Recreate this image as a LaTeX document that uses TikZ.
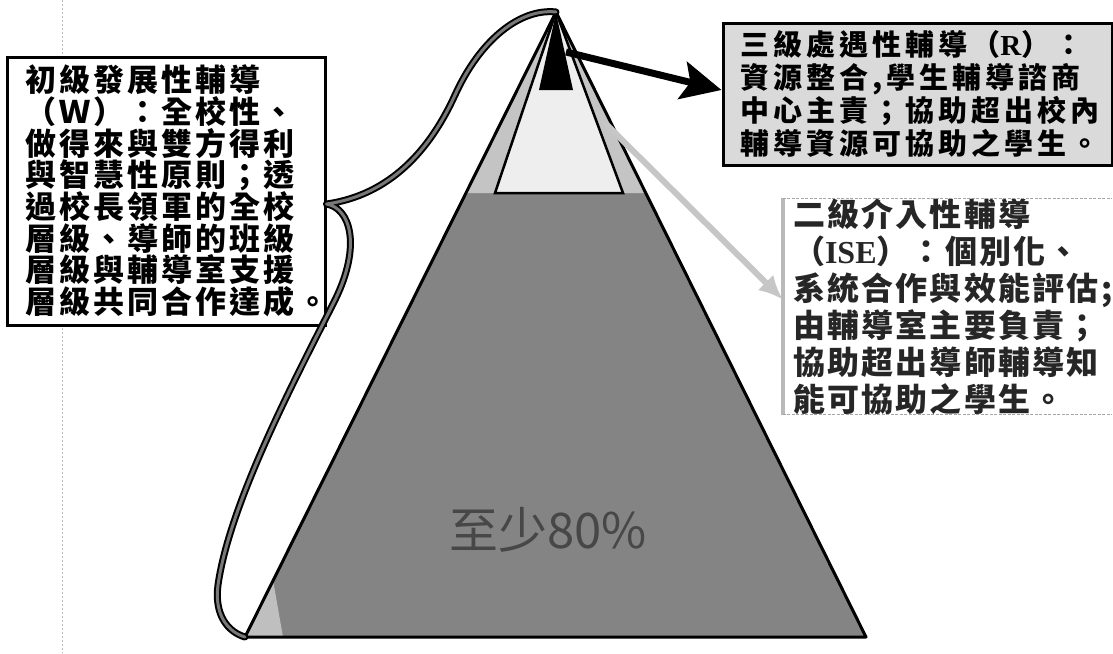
\documentclass[tikz,border=0pt]{standalone}
\usepackage{fontspec}
\usetikzlibrary{arrows.meta}
\newfontfamily\cjkW{Noto Sans CJK TC}[LetterSpace=10]
\newfontfamily\cjkR{Noto Sans CJK TC}[LetterSpace=14]
\newfontfamily\cjkI{Noto Sans CJK TC}[LetterSpace=7]
\newfontfamily\cjkBig{Noto Sans CJK TC}
\newfontfamily\latser{Liberation Serif}
\definecolor{pyrgray}{RGB}{132,132,132}
\definecolor{bandgray}{RGB}{196,196,196}
\definecolor{innergray}{RGB}{238,238,238}
\definecolor{rboxgray}{RGB}{218,218,218}
\definecolor{bracegray}{RGB}{120,120,120}
\tikzset{
  boxW/.style={draw=black, line width=3pt, fill=white, minimum width=318pt, minimum height=268pt,
    inner xsep=18pt, inner ysep=0pt, text width=282pt, align=left,
    font=\cjkW\bfseries\fontsize{31}{31.7}\selectfont},
  boxR/.style={draw=black, line width=3pt, fill=rboxgray, minimum width=389pt, minimum height=142pt,
    inner xsep=17pt, inner ysep=0pt, text width=355pt, align=left,
    font=\cjkR\bfseries\fontsize{29}{33}\selectfont},
  boxI/.style={fill=white, minimum width=329pt, minimum height=207pt,
    inner xsep=10pt, inner ysep=0pt, text width=309pt, align=left,
    font=\cjkI\bfseries\fontsize{32}{37}\selectfont, text=black!85},
  bigtext/.style={font=\cjkBig\fontsize{49}{52}\selectfont, text=black!72, inner sep=0pt},
}
\begin{document}
\begin{tikzpicture}[x=1pt,y=-1pt]
\useasboundingbox (0,0) rectangle (1113,653);
\fill[white] (0,0) rectangle (1113,653);
% faint scan guide line
\coordinate (gtop) at (62,0);
\coordinate (gbot) at (62,653);
\draw[gray!55, line width=1pt, dash pattern=on 2pt off 2pt] (gtop) -- (gbot);

% pyramid
\coordinate (apex) at (556,12);
\coordinate (bl) at (245,637);
\coordinate (br) at (866,637);
\fill[pyrgray] (apex) -- (bl) -- (br) -- cycle;
\fill[bandgray] (apex) -- (466,193) -- (645,193) -- cycle;
\filldraw[fill=innergray, draw=black, line width=2.5pt, line join=miter] (556,12) -- (495,193) -- (623,193) -- cycle;
\fill[black] (556,13) -- (539,90) -- (573,90) -- cycle;
\fill[gray!50] (bl) -- (273,580) -- (283,637) -- cycle;
\draw[black, line width=3pt, line join=round] (apex) -- (bl) -- (br) -- cycle;

\node[bigtext] (pct) at (548,530) {至少80\%};

% boxes
\node[boxW] (W) at (166,191) {初級發展性輔導\\（Ｗ）：全校性、\\做得來與雙方得利\\與智慧性原則；透\\過校長領軍的全校\\層級、導師的班級\\層級與輔導室支援\\層級共同合作達成。};
\node[boxR] (R) at (917.5,94) {三級處遇性輔導（{\latser R}）：\\資源整合,學生輔導諮商\\中心主責；協助超出校內\\輔導資源可協助之學生。};
\node[boxI] (I) at (947.5,306.5) {二級介入性輔導\\（{\latser ISE}）：個別化、\\系統合作與效能評估;\\由輔導室主要負責；\\協助超出導師輔導知\\能可協助之學生。};
\draw[gray!55, line width=4pt] (I.north west) -- (I.south west);
\draw[gray!70, line width=1pt, dash pattern=on 3pt off 1.5pt] (I.north west) -- (I.north east);
\draw[gray!70, line width=1pt, dash pattern=on 3pt off 1.5pt] (I.south west) -- (I.south east);

% brace from apex to box W to base-left corner
\coordinate (tip) at ([yshift=-13pt]W.east);
\foreach \w/\c in {7pt/black, 3pt/bracegray}{
  \draw[\c, line width=\w, line cap=round, line join=round]
    (apex) .. controls (520,8) and (480,40) .. (455,95)
    .. controls (430,150) and (390,195) .. (tip)
    .. controls (350,208) and (362,245) .. (335,300)
    .. controls (300,370) and (230,500) .. (218,585)
    .. controls (214,615) and (228,632) .. (bl);
}

% arrows
\coordinate (ra) at (566,52);
\draw[black, line width=7pt, -{Stealth[length=40pt,width=38pt,inset=8pt]}] (ra) -- ([yshift=4pt]R.west);
\coordinate (ga) at (604,122);
\draw[gray!45, line width=6pt, -{Latex[length=24pt,width=22pt]}] (ga) -- ([yshift=7pt]I.west);
\end{tikzpicture}
\end{document}
